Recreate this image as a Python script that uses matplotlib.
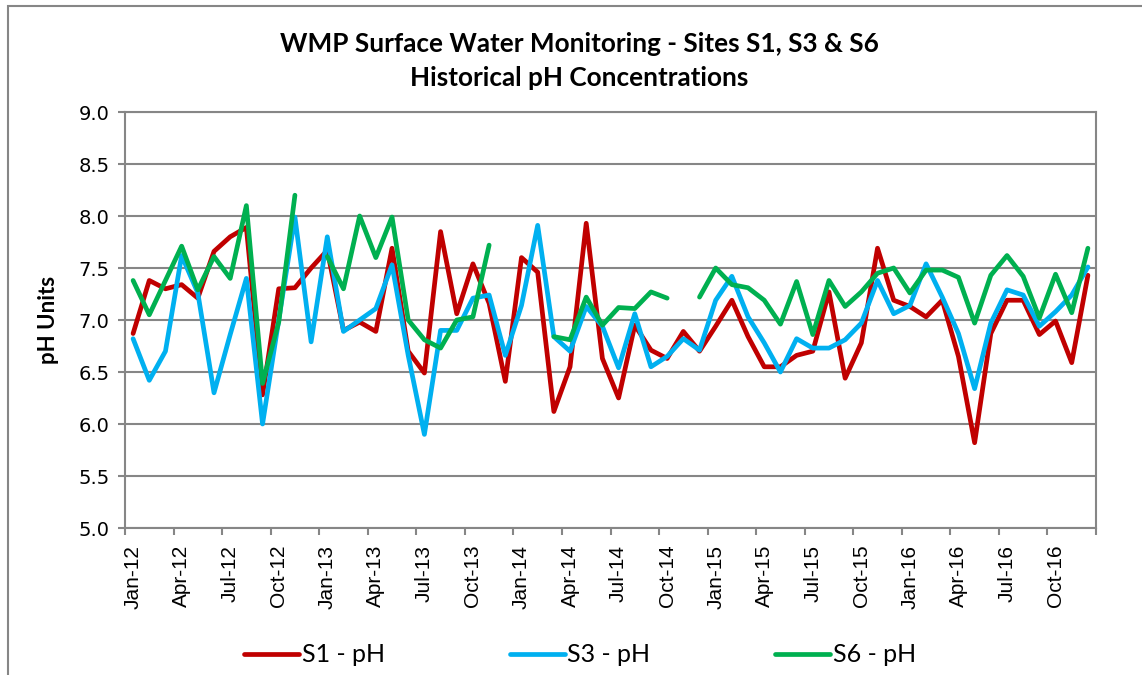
import numpy as np
import matplotlib
matplotlib.use("Agg")
import matplotlib.pyplot as plt
from matplotlib.patches import Rectangle

nan = np.nan

# monthly samples, Jan-12 .. Dec-16
s1_ph = [6.87, 7.38, 7.30, 7.34, 7.21, 7.66, 7.80, 7.89, 6.28, 7.30, 7.31, 7.50,
         7.67, 6.90, 6.98, 6.89, 7.69, 6.70, 6.49, 7.85, 7.06, 7.54, 7.16, 6.41,
         7.60, 7.46, 6.12, 6.55, 7.93, 6.63, 6.25, 6.95, 6.71, 6.63, 6.89, 6.70,
         6.94, 7.19, 6.84, 6.55, 6.55, 6.66, 6.70, 7.27, 6.44, 6.78, 7.69, 7.19,
         7.13, 7.03, 7.19, 6.65, 5.82, 6.87, 7.19, 7.19, 6.86, 6.99, 6.59, 7.43]
s3_ph = [6.82, 6.42, 6.70, 7.62, 7.26, 6.30, 6.86, 7.40, 6.00, 7.00, 7.99, 6.79,
         7.80, 6.89, 7.00, 7.11, 7.53, 6.66, 5.90, 6.90, 6.90, 7.21, 7.24, 6.66,
         7.14, 7.91, 6.84, 6.70, 7.13, 6.94, 6.54, 7.06, 6.55, 6.65, 6.82, 6.71,
         7.19, 7.42, 7.03, 6.78, 6.50, 6.82, 6.73, 6.73, 6.81, 6.97, 7.38, 7.06,
         7.14, 7.54, 7.22, 6.87, 6.34, 6.97, 7.29, 7.24, 6.94, 7.08, 7.24, 7.51]
s6_ph = [7.38, 7.05, 7.38, 7.71, 7.29, 7.61, 7.40, 8.10, 6.39, 6.98, 8.20, nan,
         7.61, 7.30, 8.00, 7.60, 7.99, 7.00, 6.81, 6.73, 7.00, 7.03, 7.72, nan,
         nan, nan, 6.84, 6.81, 7.22, 6.95, 7.12, 7.11, 7.27, 7.21, nan, 7.22,
         7.50, 7.34, 7.31, 7.19, 6.96, 7.37, 6.86, 7.38, 7.13, 7.27, 7.45, 7.50,
         7.26, 7.48, 7.48, 7.41, 6.97, 7.43, 7.62, 7.42, 7.02, 7.44, 7.07, 7.69]

tick_labels = ["Jan-12", "Apr-12", "Jul-12", "Oct-12",
               "Jan-13", "Apr-13", "Jul-13", "Oct-13",
               "Jan-14", "Apr-14", "Jul-14", "Oct-14",
               "Jan-15", "Apr-15", "Jul-15", "Oct-15",
               "Jan-16", "Apr-16", "Jul-16", "Oct-16"]

series = [("S1 - pH", s1_ph, "#C00000"),
          ("S3 - pH", s3_ph, "#00B0F0"),
          ("S6 - pH", s6_ph, "#00B050")]

grey = "#868686"

fig = plt.figure(figsize=(11.42, 6.75), dpi=100)
ax = fig.add_axes([125 / 1142, 1 - 528 / 675, 971 / 1142, 416 / 675])

x = np.arange(len(s1_ph))
for name, vals, col in series:
    ax.plot(x, vals, color=col, linewidth=3.4, label=name,
            solid_joinstyle="round", solid_capstyle="round")

ax.set_xlim(-0.5, len(s1_ph) - 0.5)
ax.set_ylim(5.0, 9.0)
ax.set_yticks(np.arange(5.0, 9.01, 0.5))
ax.set_yticklabels(["%.1f" % v for v in np.arange(5.0, 9.01, 0.5)],
                   fontsize=14, family="DejaVu Sans")
ax.yaxis.grid(True, color=grey, linewidth=1.5)
ax.set_axisbelow(True)

# tick marks on quarter boundaries, labels centred on the month
ax.set_xticks(np.arange(-0.5, len(s1_ph), 3))
ax.set_xticklabels([])
ax.set_xticks(np.arange(0, len(s1_ph), 3), minor=True)
ax.set_xticklabels(tick_labels, minor=True, rotation=90,
                   fontsize=15, family="Liberation Sans")
ax.tick_params(axis="x", which="major", length=5, width=1.5, color=grey)
ax.tick_params(axis="x", which="minor", length=0, pad=12)
ax.tick_params(axis="y", length=5, width=1.5, color=grey, pad=6)

for sp in ax.spines.values():
    sp.set_color(grey)
    sp.set_linewidth(1.5)

ax.set_ylabel("pH Units", fontsize=16, fontweight="bold", family="Lato",
              labelpad=14)

fig.text(0.507, 1 - 44 / 675, "WMP Surface Water Monitoring - Sites S1, S3 & S6",
         ha="center", va="center", fontsize=18.8, fontweight="bold", family="Lato")
fig.text(0.507, 1 - 78 / 675, "Historical pH Concentrations",
         ha="center", va="center", fontsize=18.8, fontweight="bold", family="Lato")

leg = fig.legend(loc="center", bbox_to_anchor=(0.508, 1 - 655 / 675), ncol=3,
                 frameon=False, prop={"family": "Lato", "size": 18},
                 handlelength=2.2, handletextpad=0.1, columnspacing=5.0)

# outer chart frame
fig.patches.append(Rectangle((7.5 / 1142, -0.05), 1.2, 1.05 - 6 / 675,
                             transform=fig.transFigure, fill=False,
                             edgecolor=grey, linewidth=1.5))

fig.savefig("out.png", dpi=100, facecolor="white")
